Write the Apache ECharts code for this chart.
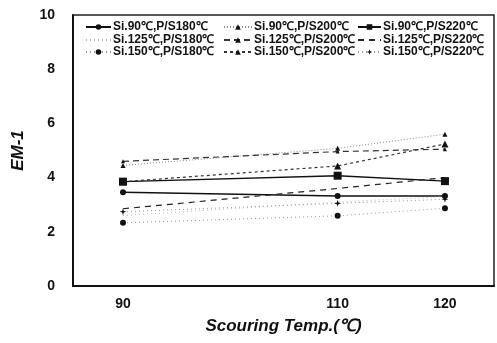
<!DOCTYPE html>
<html><head><meta charset="utf-8">
<script src="https://cdn.jsdelivr.net/npm/echarts@6/dist/echarts.min.js"></script>
<style>html,body{margin:0;padding:0;background:#fff}#c{width:497px;height:343px}</style>
</head><body><div id="c"></div>
<script>
var temps = [90, 110, 120];
var xTickLabels = [90, 110, 120];
var yTicks = [0, 2, 4, 6, 8, 10];
var seriesNames = [
  'Si.90℃,P/S180℃', 'Si.90℃,P/S200℃', 'Si.90℃,P/S220℃',
  'Si.125℃,P/S180℃', 'Si.125℃,P/S200℃', 'Si.125℃,P/S220℃',
  'Si.150℃,P/S180℃', 'Si.150℃,P/S200℃', 'Si.150℃,P/S220℃'
];
var si90ps180 = [3.46, 3.32, 3.32];
var si90ps200 = [4.45, 5.08, 5.6];
var si90ps220 = [3.85, 4.07, 3.87];
var si125ps180 = [2.6, 3.1, 3.3];
var si125ps200 = [4.6, 4.96, 5.05];
var si125ps220 = [2.85, 3.6, 4.0];
var si150ps180 = [2.33, 2.59, 2.87];
var si150ps200 = [3.85, 4.43, 5.24];
var si150ps220 = [2.74, 3.05, 3.2];
var values = [si90ps180, si90ps200, si90ps220, si125ps180, si125ps200, si125ps220, si150ps180, si150ps200, si150ps220];

var star = 'path://M5,0 L6.2,3.8 L10,5 L6.2,6.2 L5,10 L3.8,6.2 L0,5 L3.8,3.8Z';
var styles = [
  {type:'solid', w:1.4, c:'#111', sym:'circle', s:6},
  {type:[1,2], w:1, c:'#888', sym:'triangle', s:5},
  {type:'solid', w:1.4, c:'#111', sym:'rect', s:8},
  {type:[1,3], w:1, c:'#bbb', sym:'none', s:0},
  {type:[6,4], w:1.2, c:'#333', sym:'triangle', s:4},
  {type:[6,5], w:1.2, c:'#222', sym:'none', s:0},
  {type:[1,3], w:1, c:'#999', sym:'circle', s:6},
  {type:[3,3], w:1.2, c:'#333', sym:'triangle', s:7},
  {type:[1,3], w:1, c:'#999', sym:star, s:7}
];

var series = seriesNames.map(function(n, i){
  var st = styles[i];
  return {
    name: n, type: 'line',
    data: temps.map(function(t, k){ return [t, values[i][k]]; }),
    symbol: st.sym, symbolSize: st.s,
    lineStyle: {type: st.type, width: st.w, color: st.c},
    itemStyle: {color: '#111'},
    emphasis: {disabled: true}
  };
});

var colLeft = [85, 223, 357];
var colW = [25, 28, 23];
var rowTop = [21, 34, 46];
var legends = seriesNames.map(function(n, i){
  var item = {name: n};
  if (styles[i].sym === 'none') item.itemStyle = {color: 'rgba(0,0,0,0)', borderColor: 'rgba(0,0,0,0)', opacity: 0};
  return {
    data: [item], left: colLeft[i % 3], top: rowTop[Math.floor(i / 3)],
    itemWidth: colW[i % 3], itemHeight: 7, itemGap: 0, padding: 0,
    textStyle: {fontFamily: 'Liberation Sans', fontWeight: 'bold', fontSize: 12, color: '#111', padding:[0,0,0,-3]}
  };
});

var chart = echarts.init(document.getElementById('c'), null, {renderer: 'canvas'});
chart.setOption({
  animation: false,
  backgroundColor: '#fff',
  legend: legends,
  grid: {left: 73, right: 3, top: 15, bottom: 57, show: true, borderColor: '#222', borderWidth: 1.5, containLabel: false, outerBoundsMode: 'none'},
  xAxis: {
    type: 'value', min: 85.34, max: 124.57,
    axisLine: {lineStyle: {color: '#111', width: 2}},
    axisTick: {show: false},
    splitLine: {show: false},
    axisLabel: {
      customValues: xTickLabels, hideOverlap: false,
      margin: 11, fontFamily: 'Liberation Sans', fontWeight: 'bold', fontSize: 14, color: '#111'
    },
    name: 'Scouring Temp.(℃)', nameLocation: 'middle', nameGap: 32,
    nameTextStyle: {fontFamily: 'Liberation Sans', fontWeight: 'bold', fontStyle: 'italic', fontSize: 17, color: '#111'}
  },
  yAxis: {
    type: 'value', min: yTicks[0], max: yTicks[yTicks.length - 1], interval: 2,
    axisLine: {show: true, lineStyle: {color: '#111', width: 2}},
    axisTick: {show: false},
    splitLine: {show: false},
    axisLabel: {margin: 18, fontFamily: 'Liberation Sans', fontWeight: 'bold', fontSize: 14, color: '#111'},
    name: 'EM-1', nameLocation: 'middle', nameGap: 38, nameRotate: 90,
    nameTextStyle: {fontFamily: 'Liberation Sans', fontWeight: 'bold', fontStyle: 'italic', fontSize: 17, color: '#111', padding: [0, 0, 8, 0]}
  },
  series: series
});
</script>
</body></html>
